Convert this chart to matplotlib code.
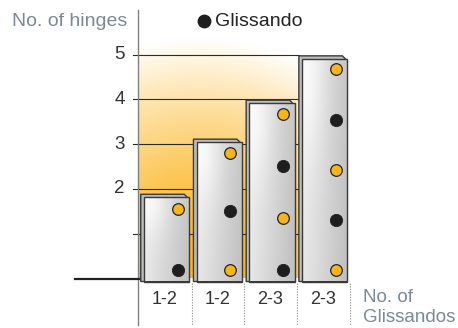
import numpy as np
import matplotlib
matplotlib.use("Agg")
import matplotlib.pyplot as plt
from matplotlib.patches import Rectangle, Polygon

plt.rcParams['font.family'] = ['Liberation Sans', 'DejaVu Sans']

# ---- data ----
categories = ["1-2", "1-2", "2-3", "2-3"]
hinges = [1.88, 3.11, 3.98, 4.97]          # bar heights (No. of hinges)
y_ticks = [1, 2, 3, 4, 5]
y_tick_labels = ["", "2", "3", "4", "5"]
# dots inside bars: bar index, vertical position, kind (1 = glissando / black, 0 = yellow)
dot_bar = [0, 0, 1, 1, 1, 2, 2, 2, 2, 3, 3, 3, 3, 3]
dot_y = [1.55, 0.19, 2.80, 1.51, 0.19, 3.67, 2.51, 1.35, 0.19, 4.68, 3.54, 2.42, 1.31, 0.19]
dot_kind = [0, 1, 0, 1, 0, 0, 1, 0, 1, 0, 1, 0, 1, 0]
legend_label = "Glissando"
y_title = "No. of hinges"
x_title = ["No. of", "Glissandos"]

# ---- layout helpers (pixel scale) ----
PXX, PXY = 52.7, 44.8
X0, Y0 = 165.0, 278.5
W, H = 458, 328

fig = plt.figure(figsize=(W / 100, H / 100), dpi=100)
ax = fig.add_axes([0, 0, 1, 1])
ax.set_xlim(-X0 / PXX, (W - X0) / PXX)
ax.set_ylim((Y0 - H) / PXY, Y0 / PXY)
ax.axis('off')

n = len(categories)
bw = 0.92
axis_x = -0.512

# ---- orange elliptical glow background ----
gx0, gx1 = axis_x, n - 1 - bw / 2
gy0, gy1 = 0.0, 6.0
nx, ny = 300, 300
xs = np.linspace(gx0, gx1, nx)
ys = np.linspace(gy0, gy1, ny)
XX, YY = np.meshgrid(xs, ys)
cx_px = 200.0
dx = (XX - (cx_px - X0) / PXX) * PXX
dy = YY * PXY
r = np.sqrt((dx / 240.0) ** 2 + (dy / 240.0) ** 2)
a = np.clip(1 - r ** 1.6, 0, 1)
orange = np.array([252, 180, 30]) / 255.0
img = np.ones((ny, nx, 3)) * (1 - a[..., None]) + orange * a[..., None]
ax.imshow(img, extent=[gx0, gx1, gy0, gy1], origin='lower', aspect='auto',
          zorder=1, interpolation='bilinear')

# ---- gridlines and ticks ----
for t in y_ticks:
    ax.plot([-0.607, gx1], [t, t], color='#2a2a2a', lw=0.8, zorder=2)
for t, lab in zip(y_ticks, y_tick_labels):
    if lab:
        ax.text(-0.76, t, lab, ha='right', va='center', fontsize=13.5, color='#333333')

# axis line
ax.plot([axis_x, axis_x], [(Y0 - 10) / PXY, (Y0 - 325) / PXY], color='#808080', lw=1.0, zorder=3)
# baseline
ax.plot([(75 - X0) / PXX, (141 - X0) / PXX], [0, 0], color='#222222', lw=1.6, zorder=3)

# separators
for i in range(n):
    xsep = i + 0.5 + 0.005
    ax.plot([xsep, xsep], [-0.11, (Y0 - 325) / PXY], color='#9a9a9a', lw=0.8,
            ls=(0, (1.2, 1.2)), zorder=3)

# ---- bars ----
bx = np.linspace(0, 1, 120)
by = np.linspace(0, 1, 200)
BX, BY = np.meshgrid(bx, by)
base = 0.94 - 0.16 * BX
hl = np.exp(-(((BX - 0.2) / 0.35) ** 2 + ((BY - 0.9) / 0.35) ** 2))
shade = np.clip(base + 0.06 * hl - 0.03 * (1 - BY), 0, 1)
bar_img = np.dstack([shade, shade, shade])

bevx, bevy = 3.2 / PXX, 3.2 / PXY
chx, chy = 5 / PXX, 5 / PXY
bottom = -3 / PXY
for i, h in enumerate(hinges):
    L, R = i - bw / 2, i + bw / 2
    outer = Polygon([[L, bottom], [L, h], [R - chx, h], [R, h - chy], [R, bottom]],
                    closed=True, facecolor='#bcbcbc', edgecolor='#3a3a3a', lw=1.0, zorder=4)
    ax.add_patch(outer)
    iL, iT = L + bevx, h - bevy
    im = ax.imshow(bar_img, extent=[iL, R, bottom, iT], origin='lower', aspect='auto',
                   zorder=5, interpolation='bilinear')
    clip = Rectangle((iL, bottom), R - iL, iT - bottom, transform=ax.transData)
    im.set_clip_path(clip)
    ax.add_patch(Rectangle((iL, bottom), R - iL, iT - bottom, facecolor='none',
                           edgecolor='#3a3a3a', lw=1.0, zorder=6))

# ---- dots ----
for b, yv, k in zip(dot_bar, dot_y, dot_kind):
    if k == 1:
        ax.scatter([b + 0.24], [yv], s=78, color='#1e1e1e', edgecolors='#1e1e1e',
                   linewidths=0.6, zorder=7)
    else:
        ax.scatter([b + 0.24], [yv], s=70, color='#F9B515', edgecolors='#222222',
                   linewidths=0.9, zorder=7)

# ---- x labels ----
for i, c in enumerate(categories):
    ax.text(i, (Y0 - 300) / PXY, c, ha='center', va='center', fontsize=13, color='#333333')

# ---- titles & legend ----
gray_blue = '#7a8a95'
ax.text((127 - X0) / PXX, (Y0 - 22) / PXY, y_title, ha='right', va='center',
        fontsize=14, color=gray_blue)
ax.text((363 - X0) / PXX, (Y0 - 298) / PXY, x_title[0], ha='left', va='center',
        fontsize=13.5, color=gray_blue)
ax.text((363 - X0) / PXX, (Y0 - 317) / PXY, x_title[1], ha='left', va='center',
        fontsize=13.5, color=gray_blue)

ax.scatter([(204 - X0) / PXX], [(Y0 - 21) / PXY], s=80, color='#1e1e1e', zorder=7)
ax.text((215 - X0) / PXX, (Y0 - 21) / PXY, legend_label, ha='left', va='center',
        fontsize=14, color='#222222')

fig.savefig('out.png', dpi=100)
